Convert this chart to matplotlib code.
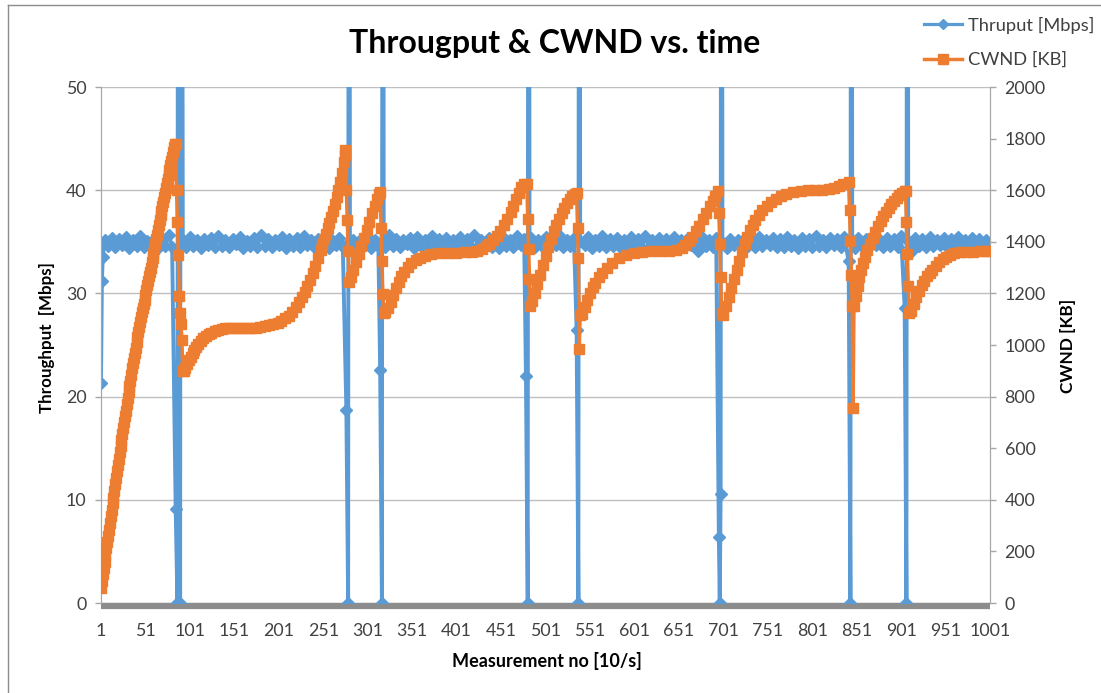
import numpy as np
import matplotlib
matplotlib.use("Agg")
import matplotlib.pyplot as plt
from matplotlib.lines import Line2D

plt.rcParams['font.family'] = ['Lato', 'DejaVu Sans']

# ---------------- data ----------------
title = "Througput & CWND vs. time"
x_label = "Measurement no [10/s]"
y1_label = "Throughput  [Mbps]"
y2_label = "CWND [KB]"
series_names = ["Thruput [Mbps]", "CWND [KB]"]
x_ticks = [1, 51, 101, 151, 201, 251, 301, 351, 401, 451, 501, 551, 601, 651,
           701, 751, 801, 851, 901, 951, 1001]
y1_ticks = [0, 10, 20, 30, 40, 50]
y2_ticks = [0, 200, 400, 600, 800, 1000, 1200, 1400, 1600, 1800, 2000]

# Throughput: steady band, sampled every 4th measurement starting at 5
thr_base_start = 5
thr_base_step = 4
thr_base = [
    35.2, 34.6, 35.4, 34.5, 35.3, 34.7, 35.5, 34.4, 35.2, 34.6,
    35.6, 34.5, 35.1, 34.8, 35.3, 34.4, 35.4, 34.6, 35.7, 34.5,
    35.2, 34.7, 35.3, 34.5, 35.5, 34.6, 35.2, 34.4, 35.3, 34.7,
    35.4, 34.5, 35.6, 34.6, 35.2, 34.5, 35.3, 34.8, 35.5, 34.4,
    35.1, 34.6, 35.4, 34.5, 35.7, 34.6, 35.3, 34.5, 35.2, 34.7,
    35.5, 34.4, 35.3, 34.6, 35.4, 34.5, 35.6, 34.7, 35.2, 34.5,
    35.3, 34.6, 35.5, 34.4, 35.2, 34.7, 35.4, 34.5, 35.6, 34.6,
    35.2, 34.5, 35.3, 34.7, 35.5, 34.4, 35.2, 34.6, 35.4, 34.5,
    35.7, 34.6, 35.3, 34.5, 35.2, 34.8, 35.4, 34.4, 35.5, 34.6,
    35.2, 34.5, 35.6, 34.7, 35.3, 34.5, 35.4, 34.6, 35.2, 34.4,
    35.5, 34.6, 35.3, 34.5, 35.7, 34.6, 35.2, 34.7, 35.4, 34.5,
    35.3, 34.4, 35.5, 34.6, 35.2, 34.5, 35.6, 34.7, 35.3, 34.6,
    35.4, 34.5, 35.2, 34.6, 35.5, 34.4, 35.3, 34.7, 35.6, 34.5,
    35.2, 34.6, 35.4, 34.5, 35.3, 34.7, 35.5, 34.4, 35.2, 34.6,
    35.6, 34.5, 35.3, 34.6, 35.4, 34.5, 35.2, 34.7, 35.5, 34.6,
    35.3, 34.4, 35.6, 34.5, 35.2, 34.6, 35.4, 34.5, 35.3, 34.7,
    35.5, 34.6, 35.2, 34.5, 35.4, 34.7, 35.3, 34.1, 35.5, 34.6,
    35.2, 34.5, 35.4, 34.6, 35.6, 34.4, 35.3, 34.7, 35.2, 34.5,
    35.4, 34.6, 35.3, 34.5, 35.5, 34.6, 35.2, 34.7, 35.4, 34.5,
    35.3, 34.5, 35.5, 34.6, 35.2, 34.4, 35.4, 34.6, 35.3, 34.5,
    35.6, 34.6, 35.2, 34.5, 35.4, 34.7, 35.3, 34.5, 35.5, 34.6,
    35.2, 34.4, 35.4, 34.6, 35.3, 34.5, 35.5, 34.7, 35.2, 34.5,
    35.4, 34.6, 35.3, 34.5, 35.6, 34.6, 35.2, 34.1, 35.4, 34.6,
    35.3, 34.5, 35.5, 34.6, 35.2, 34.7, 35.4, 34.5, 35.3, 34.6,
    35.5, 34.4, 35.2, 34.6, 35.4, 34.5, 35.3, 34.7, 35.2, 34.6,
]
# Throughput start-up and loss events (drop, zero, overshoot beyond axis top)
thr_evt_x = [1, 2, 3,
             85, 87, 88, 90, 91, 93,
             277, 279, 280, 281,
             315, 317, 318, 319,
             479, 481, 482, 483,
             536, 538, 539, 540,
             696, 697, 698, 699, 700,
             842, 844, 845, 846,
             905, 907, 908, 909]
thr_evt_y = [21.3, 31.2, 33.5,
             9.1, 0.0, 150.0, 0.0, 150.0, 35.2,
             18.7, 0.0, 150.0, 35.1,
             22.6, 0.0, 150.0, 35.0,
             22.0, 0.0, 150.0, 35.2,
             26.5, 0.0, 150.0, 35.1,
             6.4, 0.0, 10.6, 150.0, 35.0,
             33.1, 0.0, 150.0, 35.2,
             28.6, 0.0, 150.0, 35.1]

# CWND readings (measurement no, KB)
cwnd_x = [
    1, 2, 3, 4, 5, 6, 7, 8, 9, 10, 11, 12, 13, 14, 15, 16, 17, 18, 19, 20,
    21, 22, 23, 24, 25, 26, 27, 28, 29, 30, 31, 32, 33, 34, 35, 36, 37, 38, 39, 40,
    41, 42, 43, 44, 45, 46, 47, 48, 49, 50, 51, 52, 53, 54, 55, 56, 57, 58, 59, 60,
    61, 62, 63, 64, 65, 66, 67, 68, 69, 70, 71, 72, 73, 74, 75, 76, 77, 78, 79, 80,
    81, 82, 83, 84, 85, 86, 87, 88, 89, 90, 91, 92, 93,
    94, 96, 98, 100, 102, 104, 106, 108, 110, 113, 116, 119, 122, 125, 129, 133,
    137, 141, 145, 150, 155, 160, 165, 170, 175, 180, 185, 190, 195, 200, 204, 208,
    212, 216, 220, 224, 227, 230, 233, 236, 239, 242, 245, 248, 250, 252, 254, 256,
    258, 260, 262, 264, 266, 268, 270, 272, 274, 275, 276,
    277, 278, 279, 280,
    282, 285, 288, 291, 294, 297, 300, 303, 306, 309, 312, 314, 315,
    316, 317, 318, 319,
    321, 324, 327, 330, 333, 336, 339, 342, 346, 350, 355, 360, 366, 372, 380, 390,
    400, 410, 418, 424, 430, 434, 438, 442, 446, 450, 454, 458, 462, 465, 468, 471,
    474, 477, 480,
    481, 482, 483, 484,
    486, 489, 492, 495, 498, 501, 504, 507, 510, 513, 516, 519, 522, 525, 528, 531,
    534, 536,
    537, 538, 539, 540,
    542, 545, 548, 551, 554, 557, 561, 565, 570, 576, 584, 592, 600, 610, 620, 630,
    640, 648, 654, 658, 662, 666, 670, 674, 678, 682, 686, 689, 692, 695,
    696, 697, 698, 699,
    701, 704, 707, 710, 713, 716, 719, 722, 725, 728, 731, 734, 737, 741, 745, 750,
    755, 760, 766, 772, 779, 788, 796, 804, 812, 820, 826, 831, 836, 842,
    843, 844, 845, 846, 847, 848,
    850, 852, 854, 856, 858, 860, 863, 866, 869, 872, 875, 878, 881, 884, 887, 890,
    893, 896, 899, 902, 905, 906,
    907, 908, 909, 910,
    912, 915, 918, 921, 924, 927, 930, 933, 936, 940, 944, 948, 952, 956, 961, 967,
    974, 982, 990, 996, 1001,
]
cwnd_kb = [
    60, 86, 112, 136, 160, 186, 212, 236, 258, 284, 310, 336, 362, 386, 408, 434, 460, 486, 512, 534,
    558, 584, 610, 632, 654, 678, 702, 724, 746, 770, 794, 818, 840, 860, 884, 910, 932, 950, 968, 990,
    1012, 1032, 1050, 1068, 1088, 1108, 1126, 1144, 1160, 1176, 1194, 1214, 1232, 1250, 1266, 1282, 1300, 1320, 1336, 1352,
    1372, 1392, 1410, 1426, 1444, 1466, 1484, 1502, 1520, 1540, 1556, 1572, 1590, 1610, 1626, 1642, 1660, 1680, 1696, 1712,
    1730, 1750, 1766, 1780, 1780, 1600, 1475, 1350, 1190, 1125, 1080, 1020, 900,
    900, 910, 925, 940, 955, 968, 980, 992, 1002, 1015, 1027, 1036, 1043, 1048, 1053, 1058,
    1062, 1064, 1065, 1066, 1066, 1065, 1066, 1066, 1067, 1069, 1072, 1076, 1080, 1086, 1094, 1103,
    1114, 1128, 1146, 1168, 1186, 1206, 1228, 1253, 1280, 1308, 1338, 1368, 1390, 1410, 1430, 1452,
    1474, 1496, 1520, 1545, 1572, 1600, 1632, 1668, 1710, 1735, 1756,
    1600, 1484, 1366, 1244,
    1262, 1290, 1320, 1352, 1385, 1415, 1445, 1478, 1510, 1540, 1566, 1585, 1592,
    1453, 1326, 1198, 1124,
    1126, 1145, 1168, 1195, 1222, 1246, 1266, 1284, 1302, 1316, 1328, 1338, 1346, 1351, 1355, 1357,
    1358, 1359, 1361, 1365, 1373, 1382, 1393, 1407, 1424, 1443, 1464, 1488, 1515, 1540, 1565, 1590,
    1612, 1625, 1625,
    1490, 1374, 1256, 1151,
    1170, 1200, 1235, 1272, 1310, 1345, 1378, 1412, 1442, 1467, 1490, 1512, 1532, 1550, 1565, 1577,
    1587, 1591,
    1453, 1337, 985, 1118,
    1122, 1148, 1176, 1202, 1224, 1242, 1262, 1280, 1298, 1318, 1338, 1350, 1357, 1361, 1363, 1364,
    1365, 1368, 1376, 1388, 1403, 1420, 1440, 1462, 1487, 1512, 1537, 1557, 1578, 1597,
    1512, 1393, 1262, 1124,
    1115, 1150, 1185, 1220, 1255, 1290, 1325, 1360, 1392, 1420, 1445, 1466, 1485, 1505, 1522, 1540,
    1554, 1566, 1578, 1587, 1594, 1597, 1599, 1600, 1602, 1605, 1610, 1617, 1624, 1630,
    1523, 1403, 1273, 1151, 755, 1150,
    1190, 1230, 1265, 1292, 1318, 1340, 1368, 1393, 1416, 1438, 1460, 1482, 1500, 1516, 1531, 1545,
    1558, 1570, 1582, 1591, 1597, 1597,
    1476, 1352, 1230, 1124,
    1130, 1158, 1185, 1210, 1232, 1250, 1266, 1280, 1292, 1306, 1320, 1332, 1342, 1349, 1355, 1359,
    1361, 1362, 1363, 1364, 1364,
]

# ---------------- assemble throughput series ----------------
base_x = np.arange(len(thr_base)) * thr_base_step + thr_base_start
base_y = np.array(thr_base, dtype=float)
evx = np.array(thr_evt_x, dtype=float)
evy = np.array(thr_evt_y, dtype=float)
dist = np.min(np.abs(base_x[:, None] - evx[None, :]), axis=1)
keep = dist >= 2
tx = np.concatenate([base_x[keep], evx])
ty = np.concatenate([base_y[keep], evy])
order = np.argsort(tx, kind="stable")
tx, ty = tx[order], ty[order]

# ---------------- figure ----------------
W, H = 1101, 693
fig = plt.figure(figsize=(W / 100, H / 100), dpi=100)
L, R, T, B = 101, 990, 87, 603
ax = fig.add_axes([L / W, 1 - B / H, (R - L) / W, (B - T) / H])
ax2 = ax.twinx()

blue = "#5B9BD5"
orange = "#ED7D31"
grid = "#BFBFBF"
axis_gray = "#A6A6A6"
text_col = "#404040"

ax.plot(tx, ty, color=blue, lw=2.8, marker="D", ms=5.8, mec=blue, mfc=blue,
        zorder=3, clip_on=True)
ax2.plot(cwnd_x, cwnd_kb, color=orange, lw=2.5, marker="s", ms=6.6,
         mec=orange, mfc=orange, zorder=3)

ax.set_xlim(1, 1001)
ax.set_ylim(0, 50)
ax2.set_ylim(0, 2000)
ax.set_xticks(x_ticks)
ax.set_yticks(y1_ticks)
ax2.set_yticks(y2_ticks)
ax.yaxis.grid(True, color=grid, lw=1.0)
ax.set_axisbelow(True)

for a in (ax, ax2):
    a.spines["top"].set_visible(False)
    a.spines["left"].set_color(axis_gray)
    a.spines["right"].set_color(axis_gray)
    a.spines["bottom"].set_visible(False)
    a.patch.set_visible(False)

ax.spines["bottom"].set_visible(True)
ax.spines["bottom"].set_color("#8C8C8C")
ax.spines["bottom"].set_linewidth(4.5)
ax.spines["bottom"].set_position(("outward", 2.4))
ax.spines["bottom"].set_capstyle("butt")

ax.tick_params(axis="x", length=0, pad=12, labelsize=12.8, labelcolor=text_col)
ax.tick_params(axis="y", length=4.5, width=1, color=axis_gray, pad=6,
               labelsize=12.8, labelcolor=text_col)
ax2.tick_params(axis="y", length=4.5, width=1, color=axis_gray, pad=6,
                labelsize=12.8, labelcolor=text_col)

fig.text(555 / W, 1 - 43 / H, title, ha="center", va="center",
         fontsize=23, fontweight="bold", color="black")
fig.text(547 / W, 1 - 661 / H, x_label, ha="center", va="center",
         fontsize=13, fontweight="bold", color="black")
fig.text(47 / W, 1 - 338 / H, y1_label, ha="center", va="center",
         rotation=90, fontsize=12.2, fontweight="bold", color="black")
fig.text(1068 / W, 1 - 346 / H, y2_label, ha="center", va="center",
         rotation=90, fontsize=12.4, fontweight="bold", color="black")

handles = [Line2D([], [], color=blue, lw=2.3, marker="D", ms=5.4),
           Line2D([], [], color=orange, lw=2.5, marker="s", ms=6.6)]
fig.legend(handles, series_names, loc="upper left",
           bbox_to_anchor=(907 / W, 1 - 0 / H), frameon=False,
           fontsize=13.2, handlelength=2.1, handletextpad=0.3,
           labelspacing=1.0, labelcolor=text_col)

# chart area border
fig.add_artist(Line2D([8 / W, 8 / W], [0, 1 - 5 / H], transform=fig.transFigure,
                      color="#8C8C8C", lw=1.0))
fig.add_artist(Line2D([8 / W, 1], [1 - 5 / H, 1 - 5 / H], transform=fig.transFigure,
                      color="#8C8C8C", lw=1.0))

fig.savefig("out.png", dpi=100)
